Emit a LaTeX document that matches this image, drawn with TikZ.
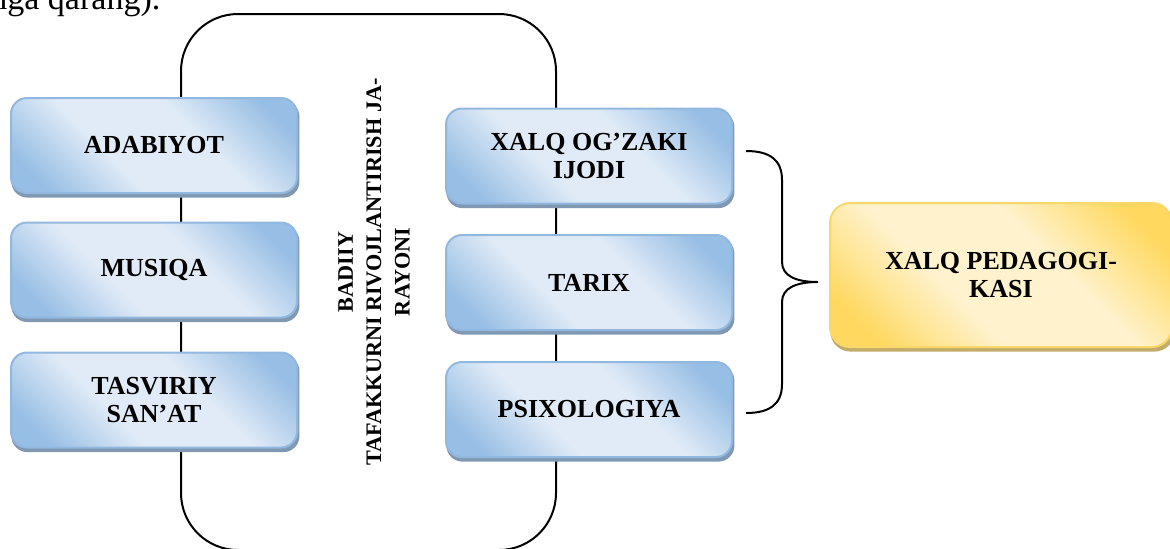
\documentclass[tikz,border=0pt]{standalone}
\usepackage{fontspec}
\setmainfont{Liberation Serif}
\usetikzlibrary{backgrounds}
\definecolor{bdark}{HTML}{97BEE4}
\definecolor{blight}{HTML}{E0EBF7}
\definecolor{bborder}{HTML}{93B8E0}
\definecolor{bshadow}{HTML}{8198B2}
\definecolor{ydark}{HTML}{FFD85F}
\definecolor{ylight}{HTML}{FFF2CC}
\definecolor{yborder}{HTML}{F9D76A}
\definecolor{yshadow}{HTML}{C2AC68}
\pgfdeclareverticalshading{bluesh}{100bp}{color(0bp)=(bdark); color(22bp)=(bdark); color(40bp)=(blight); color(60bp)=(blight); color(78bp)=(bdark); color(100bp)=(bdark)}
\pgfdeclareverticalshading{yellowsh}{100bp}{color(0bp)=(ydark); color(22bp)=(ydark); color(40bp)=(ylight); color(60bp)=(ylight); color(78bp)=(ydark); color(100bp)=(ydark)}
\begin{document}
\begin{tikzpicture}[x=0.5pt,y=-0.5pt,
  lbl/.style={font=\bfseries\fontsize{13}{14}\selectfont, align=center, text=black},
  bluebox/.style={lbl, rectangle, rounded corners=8pt, draw=bborder, line width=1pt,
    minimum width=143pt, minimum height=47.5pt,
    shade, shading=bluesh, shading angle=-45},
  yellowbox/.style={lbl, rectangle, rounded corners=10pt, draw=yborder, line width=1pt,
    minimum width=171pt, minimum height=72pt,
    shade, shading=yellowsh, shading angle=-45},
  shad/.style={fill=#1, rounded corners=8pt},
  loopline/.style={draw=black, line width=1pt},
  brace/.style={draw=black, line width=1pt}]
\useasboundingbox (0,0) rectangle (1170,548);
% partial text line at top
\node[anchor=base west, inner sep=0pt, font=\fontsize{17}{20}\selectfont] (top) at (-10,9) {nga qarang).};
% left boxes
\node[bluebox] (adab) at (154,145.5) {ADABIYOT};
\node[bluebox] (mus) at (154,270) {MUSIQA};
\node[bluebox] (tasv) at (154,400) {TASVIRIY\\SAN'AT};
% right boxes
\node[bluebox] (xalq) at (589,156) {XALQ OG'ZAKI\\IJODI};
\node[bluebox] (tarix) at (589,282.5) {TARIX};
\node[bluebox] (psix) at (589,409.5) {PSIXOLOGIYA};
% vertical text
\node[font=\bfseries\fontsize{11.1}{14.2}\selectfont, align=center, rotate=90] (badiiy) at (374,272) {BADIIY\\TAFAKKURNI RIVOJLANTIRISH JA-\\RAYONI};
% yellow box
\node[yellowbox] (ped) at (1001,275) {XALQ PEDAGOGI-\\KASI};
\begin{scope}[on background layer]
  % big rounded loop
  \draw[loopline, rounded corners=28.5pt] (181,14) rectangle (556,550);
  % shadows
  \foreach \n in {adab,mus,tasv,xalq,tarix,psix}{
    \fill[shad=bshadow] ([xshift=0.7pt,yshift=-1.8pt]\n.south west) rectangle ([xshift=0.7pt,yshift=-1.8pt]\n.north east);
  }
  \fill[shad=yshadow, rounded corners=10pt] ([xshift=0.7pt,yshift=-1.8pt]ped.south west) rectangle ([xshift=0.7pt,yshift=-1.8pt]ped.north east);
\end{scope}
% brace
\coordinate (bt) at (746,151);
\coordinate (bb) at (746,413);
\coordinate (btip) at (818,282);
\draw[brace] (bt) .. controls (770,151) and (782,160) .. (782,180)
  -- (782,262) .. controls (782,276) and (796,282) .. (btip)
  .. controls (796,282) and (782,288) .. (782,302)
  -- (782,384) .. controls (782,404) and (770,413) .. (bb);
\end{tikzpicture}
\end{document}
